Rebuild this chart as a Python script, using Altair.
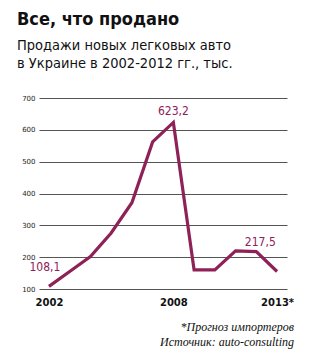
import altair as alt
import pandas as pd

years = [2002, 2003, 2004, 2005, 2006, 2007, 2008, 2009, 2010, 2011, 2012, 2013]
sales = [108.1, 155, 202, 276, 371, 562, 623.2, 160, 160, 220, 217.5, 155]
label_years = [2002, 2008, 2012]
label_texts = ["108,1", "623,2", "217,5"]
label_vals = [108.1, 623.2, 217.5]
label_dx = [-4, 0, 4]
label_dy = [-19, -11, -10]
y_ticks = [100, 200, 300, 400, 500, 600, 700]
x_ticks = [2002, 2008, 2013]

title_lines = ["Все, что продано"]
subtitle_lines = ["Продажи новых легковых авто", "в Украине в 2002-2012 гг., тыс."]
note_lines = ["*Прогноз импортеров", "Источник: auto-consulting"]

LINE = "#8E2157"
FONT = "Liberation Sans Narrow, DejaVu Sans Condensed, sans-serif"

df = pd.DataFrame({"year": years, "sales": sales})
lab = pd.DataFrame({"year": label_years, "sales": label_vals, "text": label_texts})

W, H = 248, 191
xs = alt.Scale(domain=[2001.52, 2013.48], nice=False, zero=False)
ys = alt.Scale(domain=[100, 700], nice=False, zero=False)

x_axis = alt.Axis(
    values=x_ticks, title=None, grid=False, domain=False, ticks=False,
    labelFont="DejaVu Sans", labelFontWeight="bold", labelFontSize=10,
    labelColor="#111", labelPadding=8, labelOverlap=False,
    labelExpr="datum.value == 2013 ? '2013*' : datum.label",
    format="d")
y_axis = alt.Axis(
    values=y_ticks, title=None, grid=True, gridColor="#555", gridWidth=1,
    domain=False, ticks=False, labelFont="DejaVu Sans", labelFontSize=7,
    labelColor="#222", labelPadding=4, labelOverlap=False)

line = alt.Chart(df).mark_line(color=LINE, strokeWidth=3.2, strokeJoin="miter").encode(
    x=alt.X("year:Q", scale=xs, axis=x_axis),
    y=alt.Y("sales:Q", scale=ys, axis=y_axis),
)

texts = []
for i in range(len(label_texts)):
    texts.append(alt.Chart(lab.iloc[[i]]).mark_text(
        color=LINE, fontSize=12, font=FONT, dx=label_dx[i], dy=label_dy[i]
    ).encode(x=alt.X("year:Q", scale=xs, axis=x_axis),
             y=alt.Y("sales:Q", scale=ys, axis=y_axis), text="text:N"))

deco = []
deco.append(alt.Chart(pd.DataFrame({"t": title_lines})).mark_text(
    font=FONT, fontSize=18, fontWeight="bold", align="left", baseline="alphabetic", color="#111"
).encode(x=alt.value(-22), y=alt.value(-73), text="t:N"))
for i, s in enumerate(subtitle_lines):
    deco.append(alt.Chart(pd.DataFrame({"t": [s]})).mark_text(
        font=FONT, fontSize=14.5, align="left", baseline="alphabetic", color="#111"
    ).encode(x=alt.value(-22), y=alt.value(-48.5 + 18.5 * i), text="t:N"))
for i, s in enumerate(note_lines):
    deco.append(alt.Chart(pd.DataFrame({"t": [s]})).mark_text(
        font="Liberation Serif", fontSize=12, fontStyle="italic", align="right",
        baseline="alphabetic", color="#111"
    ).encode(x=alt.value(255), y=alt.value(232.5 + 15 * i), text="t:N"))

chart = alt.layer(line, *texts, *deco).properties(
    width=W, height=H,
    padding={"left": 39, "top": 98, "right": 35, "bottom": 70},
    autosize=alt.AutoSizeParams(type="none"),
    background="white",
).configure_view(stroke=None)

chart.save("out.html", embed_options={"renderer": "svg", "actions": False})
